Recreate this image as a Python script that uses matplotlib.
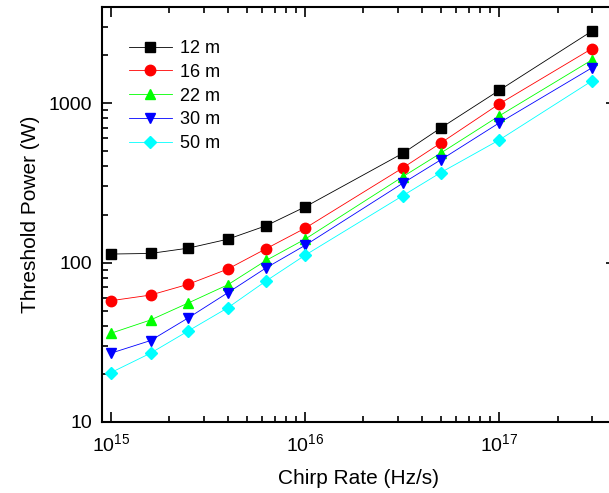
import matplotlib
matplotlib.use("Agg")
import matplotlib.pyplot as plt
from matplotlib.ticker import LogLocator, NullFormatter

plt.rcParams['font.family'] = ['Liberation Sans', 'DejaVu Sans']

chirp = [1e15, 1.6e15, 2.5e15, 4e15, 6.3e15, 1e16, 3.2e16, 5e16, 1e17, 3e17]

p12 = [113, 114, 123, 140, 170, 223, 485, 697, 1200, 2820]
p16 = [57.6, 62.5, 73, 91, 122, 164, 393, 561, 986, 2190]
p22 = [36, 43.6, 55.7, 72.5, 103, 140, 346, 485, 830, 1860]
p30 = [27, 32.4, 44.9, 64.6, 92.5, 128, 315, 440, 750, 1660]
p50 = [20.4, 27, 37.2, 52, 76.6, 111, 263, 366, 586, 1374]

series = [(p12, "12 m", "black", "s"),
          (p16, "16 m", "red", "o"),
          (p22, "22 m", "#00ff00", "^"),
          (p30, "30 m", "blue", "v"),
          (p50, "50 m", "cyan", "D")]

fig = plt.figure(figsize=(6.09, 4.93), dpi=100)
ax = fig.add_axes([102/609, 1 - 422/493, (616 - 102)/609, (422 - 7)/493])

for vals, lab, col, mk in series:
    ms = 6.5 if mk == "D" else 7.5
    ax.plot(chirp, vals, color=col, lw=0.6, marker=mk, ms=ms, label=lab)

ax.set_xscale("log")
ax.set_yscale("log")
ax.set_xlim(9e14, 4e17)
ax.set_ylim(10, 4000)

ax.xaxis.set_minor_locator(LogLocator(base=10, subs=range(2, 10), numticks=20))
ax.yaxis.set_minor_locator(LogLocator(base=10, subs=range(2, 10), numticks=20))
ax.yaxis.set_minor_formatter(NullFormatter())
ax.xaxis.set_minor_formatter(NullFormatter())
ax.set_yticks([10, 100, 1000])
ax.set_yticklabels(["10", "100", "1000"])

ax.tick_params(which="both", direction="in", top=True, right=True, labelsize=14, width=1.2)
ax.tick_params(which="major", length=7)
ax.tick_params(which="minor", length=4)
ax.tick_params(axis="x", pad=8)
ax.tick_params(axis="y", pad=7)
for s in ax.spines.values():
    s.set_linewidth(1.5)

ax.set_xlabel("Chirp Rate (Hz/s)", fontsize=15, labelpad=10)
ax.set_ylabel("Threshold Power (W)", fontsize=15, labelpad=6)

ax.legend(loc="upper left", frameon=False, fontsize=13, handlelength=2.4,
          handletextpad=0.45, labelspacing=0.38, bbox_to_anchor=(0.02, 0.96))

fig.savefig("out.png", dpi=100)
